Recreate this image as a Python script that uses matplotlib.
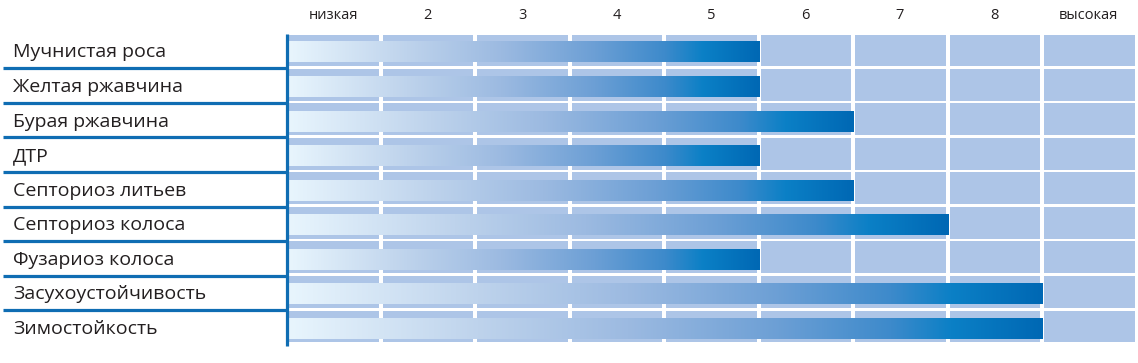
import numpy as np
import matplotlib
matplotlib.use("Agg")
import matplotlib.pyplot as plt
from matplotlib.colors import LinearSegmentedColormap
from matplotlib.patches import Rectangle

# Data
traits = ["Мучнистая роса", "Желтая ржавчина", "Бурая ржавчина", "ДТР",
          "Септориоз литьев", "Септориоз колоса", "Фузариоз колоса",
          "Засухоустойчивость", "Зимостойкость"]
scores = [5, 5, 6, 5, 6, 7, 5, 8, 8]
scale_labels = ["низкая", "2", "3", "4", "5", "6", "7", "8", "высокая"]

plt.rcParams["font.family"] = ["Open Sans", "DejaVu Sans"]

cell_color = "#adc5e7"
line_color = "#0f6db3"
text_color = "#231f20"
grad = LinearSegmentedColormap.from_list("bar", [
    (0.0, "#e8f5fd"), (0.25, "#bed3ec"), (0.45, "#9cbae1"),
    (0.65, "#6c9fd5"), (0.8, "#3d8acb"), (0.88, "#0b80c6"),
    (1.0, "#0068b4")])

W, H = 1138, 363
fig = plt.figure(figsize=(W / 100, H / 100), dpi=100)
# axes in pixel box: x 288..1138, y 34.5..345
ax = fig.add_axes([288 / W, 1 - 345.5 / H, 850 / W, 311 / H])
n_rows = len(traits)
n_cols = len(scale_labels)

# background cells
for i in range(n_rows):
    for j in range(n_cols):
        ax.add_patch(Rectangle((j + 0.005, i - 0.01), 0.959, 0.92,
                               color=cell_color, lw=0, zorder=1))

# gradient bars
g = np.linspace(0, 1, 256).reshape(1, -1)
for i, v in enumerate(scores):
    ax.imshow(g, cmap=grad, aspect="auto", interpolation="bicubic",
              extent=[0.01, v - 0.012, i + 0.81, i + 0.22], zorder=2)
ax.set_xlim(0, n_cols)
ax.set_ylim(n_rows, 0)
ax.axis("off")

# left vertical line
ax.plot([-0.015, -0.015], [-0.02, n_rows], color=line_color, lw=2.3,
        clip_on=False, solid_capstyle="butt", zorder=3)
# row separators on the left
for i in range(1, n_rows):
    ax.plot([-3.02, -0.015], [i - 0.02, i - 0.02], color=line_color, lw=2.3,
            clip_on=False, solid_capstyle="butt", zorder=3)

# row labels
for i, t in enumerate(traits):
    ax.text(-2.91, i + 0.52, t, ha="left", va="center", fontsize=14,
            color=text_color, clip_on=False)

# scale header
for j, s in enumerate(scale_labels):
    ax.text(j + 0.48, -0.54, s, ha="center", va="center", fontsize=10.5,
            color=text_color, clip_on=False)

fig.savefig("out.png", dpi=100)
